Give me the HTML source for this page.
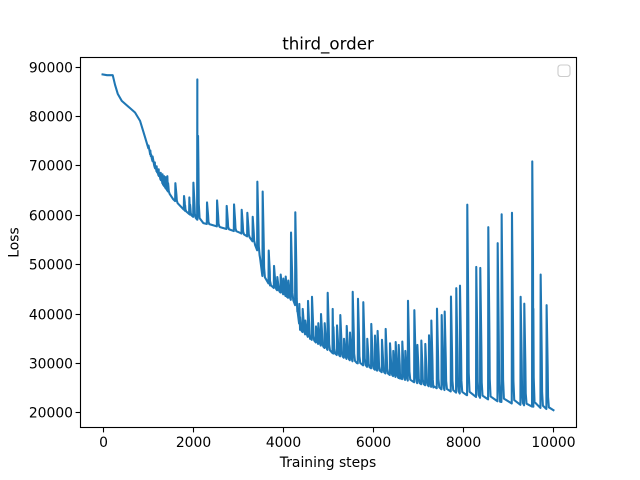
<!DOCTYPE html>
<html>
<head>
<meta charset="utf-8">
<title>third_order</title>
<style>
html,body{margin:0;padding:0;background:#fff;width:640px;height:480px;overflow:hidden}
svg{display:block}
text{font-family:"DejaVu Sans","Liberation Sans",sans-serif;fill:#000}
</style>
</head>
<body>
<svg id="chart" xmlns="http://www.w3.org/2000/svg" width="640" height="480" viewBox="0 0 640 480">
  <rect x="0" y="0" width="640" height="480" fill="#fff"/>
  <g id="ticks"></g>
  <path id="series" fill="none" stroke="#1f77b4" stroke-width="2.08" stroke-linejoin="round" stroke-linecap="square"/>
  <rect x="80.5" y="57.5" width="496" height="370" fill="none" stroke="#000" stroke-width="1.11"/>
  <text x="328" y="49.5" font-size="16.67" text-anchor="middle">third_order</text>
  <text x="328" y="467" font-size="13.89" text-anchor="middle">Training steps</text>
  <text x="0" y="0" font-size="13.89" text-anchor="middle" transform="translate(18.5 242.5) rotate(-90)">Loss</text>
  <rect x="558" y="65" width="12" height="11.5" rx="2.8" ry="2.8" fill="#fff" fill-opacity="0.8" stroke="#ccc" stroke-width="1.11"/>
</svg>
<script>
const xTickValues = [0, 2000, 4000, 6000, 8000, 10000];
const yTickValues = [20000, 30000, 40000, 50000, 60000, 70000, 80000, 90000];

const baseSteps = [0, 100, 226, 277, 337, 426, 610, 720, 832, 942, 1053, 1164, 1341, 1562, 1829, 1941, 2103, 2236, 2606, 3050, 3271, 3382, 3493, 3544, 3715, 4085, 4247, 4320, 4380, 4602, 5119, 5638, 6081, 6598, 7336, 8077, 8817, 9554, 10000];
const baseLoss = [88400, 88250, 88250, 86300, 84470, 83050, 81580, 80700, 79000, 75700, 72300, 69400, 66100, 63200, 60800, 60000, 59000, 58300, 57490, 56340, 55320, 53900, 51280, 47630, 45700, 43400, 42300, 40400, 36700, 34900, 31900, 30000, 28500, 26850, 25050, 23500, 22150, 21150, 20450];

const spikeSteps = [1020, 1060, 1110, 1160, 1200, 1245, 1290, 1330, 1365, 1400, 1437, 1615, 1807, 1925, 2015, 2102, 2317, 2540, 2753, 2916, 3086, 3211, 3330, 3433, 3551, 3685, 3803, 3876, 3951, 4010, 4062, 4120, 4180, 4275, 4364, 4439, 4497, 4557, 4645, 4734, 4785, 4845, 4927, 4993, 5104, 5200, 5273, 5355, 5415, 5488, 5548, 5665, 5783, 5871, 5960, 6042, 6100, 6197, 6279, 6375, 6448, 6501, 6568, 6648, 6715, 6774, 6915, 6982, 7070, 7158, 7240, 7292, 7417, 7521, 7588, 7727, 7845, 7927, 8089, 8288, 8377, 8555, 8763, 8851, 9080, 9272, 9353, 9530, 9716, 9848];
const spikePeaks = [74000, 73000, 71800, 70600, 69800, 69200, 68500, 68200, 67800, 67600, 67800, 66400, 63800, 63500, 66500, 87400, 62500, 62900, 61800, 62100, 61000, 60400, 59600, 66700, 64700, 52750, 49650, 47400, 47900, 47100, 47500, 46700, 56400, 60500, 41960, 40950, 38600, 42570, 43400, 37400, 38050, 39900, 38050, 44200, 40950, 37600, 39700, 34900, 37500, 36150, 44400, 43000, 42300, 34900, 37900, 35550, 36500, 34700, 36900, 34000, 32450, 34250, 33650, 34350, 32450, 42600, 40700, 33650, 34550, 33850, 35600, 38600, 41000, 39700, 40400, 43450, 45150, 45650, 62050, 49450, 49250, 57500, 54250, 60100, 60400, 43400, 42000, 70800, 47900, 41700];

const tailOffsets = [16, 24, 32, 50];
const tailShares = [0.6, 0.4, 0.12, 0.02];

const SVG_NS = 'http://www.w3.org/2000/svg';
const xScale = s => 102.55 + s * 0.045091;
const yScale = v => 412.4 - (v - 20000) * 0.004941;

function baselineAt(s) {
  for (let i = 1; i < baseSteps.length; i++) {
    if (s <= baseSteps[i]) {
      const t = (s - baseSteps[i - 1]) / (baseSteps[i] - baseSteps[i - 1]);
      return baseLoss[i - 1] + t * (baseLoss[i] - baseLoss[i - 1]);
    }
  }
  return baseLoss[baseLoss.length - 1];
}

function buildPoints() {
  const pts = baseSteps.map((s, i) => [s, baseLoss[i]]);
  spikeSteps.forEach((s, i) => {
    const peak = spikePeaks[i];
    const h = peak - baselineAt(s);
    pts.push([s - 5, baselineAt(s - 5)]);
    pts.push([s, peak]);
    tailOffsets.forEach((off, k) => {
      const sx = Math.min(s + off, 10000);
      pts.push([sx, baselineAt(sx) + h * tailShares[k]]);
    });
  });
  pts.sort((a, b) => a[0] - b[0]);
  return pts;
}

const points = buildPoints();
let d = '';
points.forEach((p, i) => {
  d += (i ? 'L' : 'M') + xScale(p[0]).toFixed(2) + ' ' + yScale(p[1]).toFixed(2);
});
document.getElementById('series').setAttribute('d', d);

const tickGroup = document.getElementById('ticks');

function addTick(x1, y1, x2, y2, name) {
  const line = document.createElementNS(SVG_NS, 'line');
  line.setAttribute('x1', x1);
  line.setAttribute('y1', y1);
  line.setAttribute('x2', x2);
  line.setAttribute('y2', y2);
  line.setAttribute('stroke', '#000');
  line.setAttribute('stroke-width', '1.11');
  
  
  tickGroup.appendChild(line);
}

function addLabel(x, y, anchor, value, name) {
  const label = document.createElementNS(SVG_NS, 'text');
  label.setAttribute('x', x);
  label.setAttribute('y', y);
  label.setAttribute('text-anchor', anchor);
  label.setAttribute('font-size', '13.89');
  label.textContent = String(value);
  
  
  tickGroup.appendChild(label);
}

xTickValues.forEach(v => {
  const x = Math.round(xScale(v)) + 0.5;
  addTick(x, 427.5, x, 432.4, 'x-tick-mark');
  addLabel(x, 447, 'middle', v, 'x-tick-label');
});

yTickValues.forEach(v => {
  const y = Math.round(yScale(v)) + 0.5;
  addTick(80.5, y, 75.6, y, 'y-tick-mark');
  addLabel(73, y + 5, 'end', v, 'y-tick-label');
});
</script>
</body>
</html>
